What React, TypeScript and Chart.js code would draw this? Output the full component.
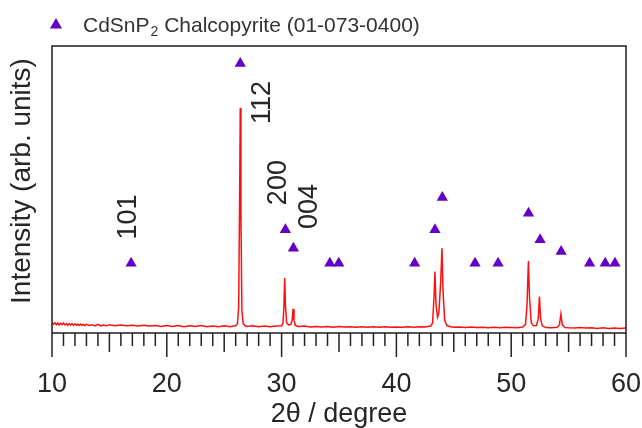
import React, { useEffect, useRef } from 'react';
import { Chart, registerables } from 'chart.js';

Chart.register(...registerables);

// Axis range and labelled ticks (2θ in degrees)
const X_MIN = 10;
const X_MAX = 60;
const X_TICK_STEP = 10;
const Y_MIN = 0;
const Y_MAX = 100;

// Measured XRD pattern: [2θ, intensity (arb. units)]
const XRD_PATTERN: [number, number][] = [
  [10.0, 3.7], [10.12, 3.0], [10.25, 3.6], [10.37, 2.9], [10.5, 3.5], [10.62, 2.8],
  [10.75, 3.4], [10.87, 2.9], [11.0, 3.5], [11.12, 2.8], [11.25, 3.3], [11.37, 2.7],
  [11.5, 3.3], [11.62, 2.8], [11.75, 3.2], [11.87, 2.7], [12.0, 3.2], [12.12, 2.7],
  [12.25, 3.1], [12.37, 2.6], [12.5, 3.1], [12.62, 2.7], [12.75, 3.0], [12.87, 2.6],
  [13.0, 3.0], [13.25, 2.6], [13.5, 2.9], [13.75, 2.5], [14.0, 3.0], [14.25, 2.5],
  [14.5, 2.8], [14.75, 2.5], [15.0, 2.9], [15.5, 2.5],
  [16.0, 2.8], [16.5, 2.5], [17.0, 2.7], [17.5, 2.4], [18.0, 2.7], [18.5, 2.4],
  [19.0, 2.6], [19.5, 2.3], [20.0, 2.6], [20.5, 2.3], [21.0, 2.6], [21.5, 2.2],
  [22.0, 2.5], [22.5, 2.3], [23.0, 2.6], [23.5, 2.2], [24.0, 2.4], [24.5, 2.2],
  [25.0, 2.5], [25.5, 2.2], [26.0, 2.5], [26.15, 3.2], [26.26, 9.0], [26.34, 45.0],
  [26.4, 78.4], [26.46, 40.0], [26.54, 8.0], [26.65, 3.3], [26.8, 2.6], [27.0, 2.3],
  [27.5, 2.5], [28.0, 2.2], [28.5, 2.4], [29.0, 2.2], [29.5, 2.4], [30.0, 2.5],
  [30.12, 3.5], [30.2, 9.0], [30.27, 19.2], [30.34, 9.0], [30.44, 3.6], [30.6, 2.8],
  [30.8, 3.0], [30.92, 4.5], [31.0, 8.4], [31.08, 4.5], [31.2, 2.6], [31.5, 2.3],
  [32.0, 2.4], [32.5, 2.1], [33.0, 2.3], [33.5, 2.1], [34.0, 2.3], [34.5, 2.0],
  [35.0, 2.3], [35.5, 2.1], [36.0, 2.2], [36.5, 2.0], [37.0, 2.2], [37.5, 2.0],
  [38.0, 2.2], [38.5, 2.0], [39.0, 2.2], [39.5, 2.0], [40.0, 2.1], [40.5, 2.0],
  [41.0, 2.2], [41.5, 2.0], [42.0, 2.2], [42.5, 2.1], [43.0, 2.4], [43.15, 3.5],
  [43.27, 12.0], [43.36, 21.4], [43.45, 10.0], [43.58, 5.5], [43.7, 7.0], [43.86, 18.0],
  [43.97, 29.5], [44.06, 15.0], [44.2, 4.5], [44.4, 2.6], [44.7, 2.2], [45.0, 2.0],
  [45.5, 2.1], [46.0, 1.9], [46.5, 2.1], [47.0, 1.9], [47.5, 2.0], [48.0, 1.8],
  [48.5, 2.0], [49.0, 1.8], [49.5, 2.0], [50.0, 1.9], [50.5, 1.8], [51.0, 2.1],
  [51.25, 3.0], [51.38, 10.0], [51.5, 25.1], [51.6, 12.0], [51.75, 3.6], [51.95, 2.5],
  [52.2, 2.6], [52.36, 5.0], [52.46, 12.7], [52.56, 5.0], [52.7, 2.5], [53.0, 1.9],
  [53.5, 1.8], [54.0, 2.0], [54.2, 2.8], [54.33, 6.6], [54.45, 2.8], [54.7, 1.9],
  [55.0, 1.8], [55.5, 1.7], [56.0, 1.9], [56.5, 1.7], [57.0, 1.8], [57.5, 1.6],
  [58.0, 1.8], [58.5, 1.6], [59.0, 1.7], [59.5, 1.6], [60.0, 1.7],
];

// Reference pattern CdSnP2 chalcopyrite (01-073-0400): marker positions
const REF_2THETA = [16.89, 26.4, 30.33, 31.03, 34.2, 34.98, 41.59, 43.36, 44.0, 46.85, 48.86, 51.51, 52.52, 54.35, 56.83, 58.19, 59.04];
const REF_LEVEL = [24.3, 93.9, 36.0, 29.5, 24.3, 24.3, 24.3, 36.0, 47.2, 24.3, 24.3, 41.7, 32.5, 28.4, 24.3, 24.3, 24.3];

// Miller index annotations
const HKL_LABELS = ['101', '112', '200', '004'];
const HKL_2THETA = [16.68, 28.3, 29.72, 32.4];
const HKL_LEVEL = [40.4, 80.3, 52.4, 44.1];

const LEGEND_MAIN = 'CdSnP';
const LEGEND_SUB = '2';
const LEGEND_REST = ' Chalcopyrite (01-073-0400)';
const X_TITLE = '2θ / degree';
const Y_TITLE = 'Intensity (arb. units)';

const RED = 'rgb(255,16,16)';
const PURPLE = '#6400c8';
const TEXT = '#262626';
const FONT = 'Arial, "Liberation Sans", Helvetica, sans-serif';

function drawTriangle(ctx: CanvasRenderingContext2D, x: number, y: number, r: number) {
  ctx.beginPath();
  ctx.moveTo(x, y - r);
  ctx.lineTo(x + r * Math.sin((2 * Math.PI) / 3), y - r * Math.cos((2 * Math.PI) / 3));
  ctx.lineTo(x + r * Math.sin((4 * Math.PI) / 3), y - r * Math.cos((4 * Math.PI) / 3));
  ctx.closePath();
  ctx.fill();
}

const decorPlugin = {
  id: 'decor',
  afterDatasetsDraw(chart: any) {
    const { ctx, chartArea: a, scales } = chart;
    const x = scales.x;
    const y = scales.y;
    ctx.save();
    // frame
    ctx.strokeStyle = '#2b2b2b';
    ctx.lineWidth = 1.6;
    ctx.strokeRect(a.left, a.top, a.right - a.left, a.bottom - a.top);
    // tick marks (minor every degree, medium every 5, major every 10)
    ctx.lineWidth = 1.5;
    ctx.strokeStyle = '#222';
    for (let v = X_MIN; v <= X_MAX; v++) {
      const px = x.getPixelForValue(v);
      const len = v % 10 === 0 ? 24 : v % 5 === 0 ? 19 : 13;
      ctx.beginPath();
      ctx.moveTo(px, a.bottom);
      ctx.lineTo(px, a.bottom + len);
      ctx.stroke();
    }
    // hkl annotations
    ctx.fillStyle = TEXT;
    ctx.font = `27px ${FONT}`;
    ctx.textAlign = 'center';
    ctx.textBaseline = 'middle';
    HKL_LABELS.forEach((lab, i) => {
      const px = x.getPixelForValue(HKL_2THETA[i]);
      const py = y.getPixelForValue(HKL_LEVEL[i]);
      ctx.save();
      ctx.translate(px, py);
      ctx.rotate(-Math.PI / 2);
      ctx.fillText(lab, 0, 0);
      ctx.restore();
    });
    // y title
    ctx.save();
    ctx.font = `28px ${FONT}`;
    ctx.translate(22, 181);
    ctx.rotate(-Math.PI / 2);
    ctx.fillText(Y_TITLE, 0, 0);
    ctx.restore();
    // legend
    ctx.fillStyle = PURPLE;
    drawTriangle(ctx, 56, 25, 7);
    ctx.fillStyle = '#333';
    ctx.textAlign = 'left';
    ctx.textBaseline = 'alphabetic';
    ctx.font = `21px ${FONT}`;
    let lx = 83;
    ctx.fillText(LEGEND_MAIN, lx, 32);
    lx += ctx.measureText(LEGEND_MAIN).width;
    ctx.font = `14px ${FONT}`;
    ctx.fillText(LEGEND_SUB, lx + 1, 36);
    lx += ctx.measureText(LEGEND_SUB).width + 1;
    ctx.font = `21px ${FONT}`;
    ctx.fillText(LEGEND_REST, lx, 32);
    ctx.restore();
  },
};

export default function App() {
  const ref = useRef<HTMLCanvasElement>(null);
  useEffect(() => {
    document.body.style.margin = '0';
    const canvas = ref.current;
    if (!canvas) return;
    const chart = new Chart(canvas, {
      type: 'scatter',
      data: {
        datasets: [
          {
            type: 'line',
            label: 'XRD',
            data: XRD_PATTERN.map(([t, i]) => ({ x: t, y: i })),
            borderColor: RED,
            borderWidth: 1.5,
            pointRadius: 0,
            tension: 0,
            fill: false,
          } as any,
          {
            type: 'scatter',
            label: LEGEND_MAIN + LEGEND_SUB + LEGEND_REST,
            data: REF_2THETA.map((t, i) => ({ x: t, y: REF_LEVEL[i] })),
            pointStyle: 'triangle',
            pointRadius: 6.5,
            pointHoverRadius: 6.5,
            backgroundColor: PURPLE,
            borderColor: PURPLE,
            borderWidth: 0,
          },
        ],
      },
      options: {
        animation: false,
        responsive: false,
        events: [],
        layout: { padding: { top: 46, right: 16, left: 52, bottom: 0 } },
        plugins: { legend: { display: false }, tooltip: { enabled: false } },
        scales: {
          x: {
            type: 'linear',
            min: X_MIN,
            max: X_MAX,
            grid: { display: false },
            border: { display: false },
            ticks: {
              stepSize: X_TICK_STEP,
              maxRotation: 0,
              autoSkip: false,
              padding: 27,
              color: TEXT,
              font: { size: 27, family: FONT },
            },
            title: {
              display: true,
              text: X_TITLE,
              color: TEXT,
              font: { size: 27, family: FONT, lineHeight: 1 },
              padding: { top: 0, bottom: 0 },
            },
            afterFit: (s: any) => {
              s.height = 95;
              s.paddingLeft = 0;
              s.paddingRight = 0;
            },
          },
          y: {
            display: false,
            min: Y_MIN,
            max: Y_MAX,
          },
        },
      },
      plugins: [decorPlugin],
    });
    return () => chart.destroy();
  }, []);
  return (
    <div style={{ width: 642, height: 428, background: '#fff' }}>
      <canvas ref={ref} width={642} height={428} />
    </div>
  );
}
